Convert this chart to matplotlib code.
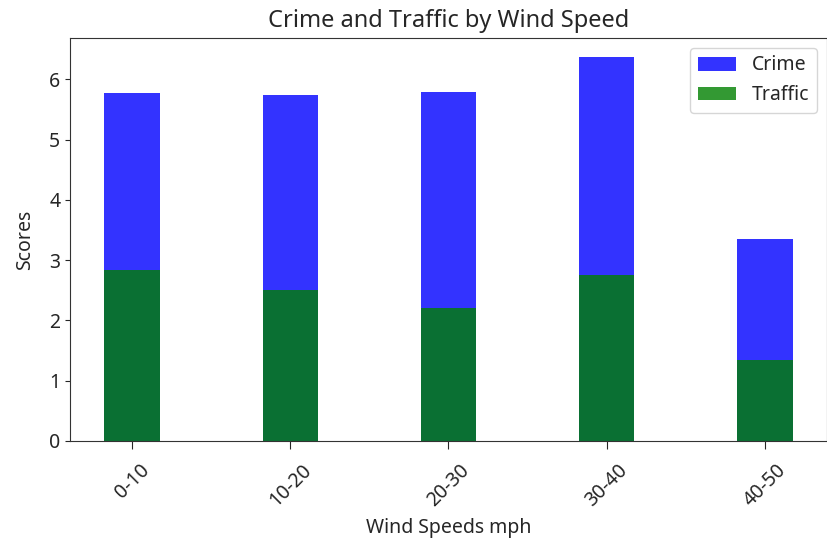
import matplotlib
matplotlib.use("Agg")
import matplotlib.pyplot as plt
import numpy as np

categories = ["0-10", "10-20", "20-30", "30-40", "40-50"]
crime = [5.77, 5.74, 5.80, 6.37, 3.35]
traffic = [2.83, 2.50, 2.20, 2.75, 1.35]

plt.rcParams['font.family'] = ['Noto Sans', 'DejaVu Sans']
plt.rcParams['font.size'] = 14
plt.rcParams['text.color'] = '#262626'
plt.rcParams['axes.labelcolor'] = '#262626'
plt.rcParams['xtick.color'] = '#262626'
plt.rcParams['ytick.color'] = '#262626'

fig = plt.figure(figsize=(8.28, 5.41), dpi=100)
ax = fig.add_axes([70/828, 100/541, 757/828, 403/541])
x = np.arange(len(categories))
w = 0.35
ax.bar(x, crime, w, color='blue', alpha=0.8, label='Crime')
ax.bar(x, traffic, w, color='green', alpha=0.8, label='Traffic')
ax.set_xticks(x)
ax.set_xticklabels(categories, rotation=45)
ax.tick_params(axis='x', length=6, pad=8)
ax.set_xlabel('Wind Speeds mph', labelpad=5)
ax.set_ylabel('Scores', labelpad=10)
ax.set_title('Crime and Traffic by Wind Speed', fontsize=17, pad=8)
for s in ax.spines.values():
    s.set_color('#333333')
ax.legend(loc='upper right')
fig.savefig('out.png', dpi=100)
